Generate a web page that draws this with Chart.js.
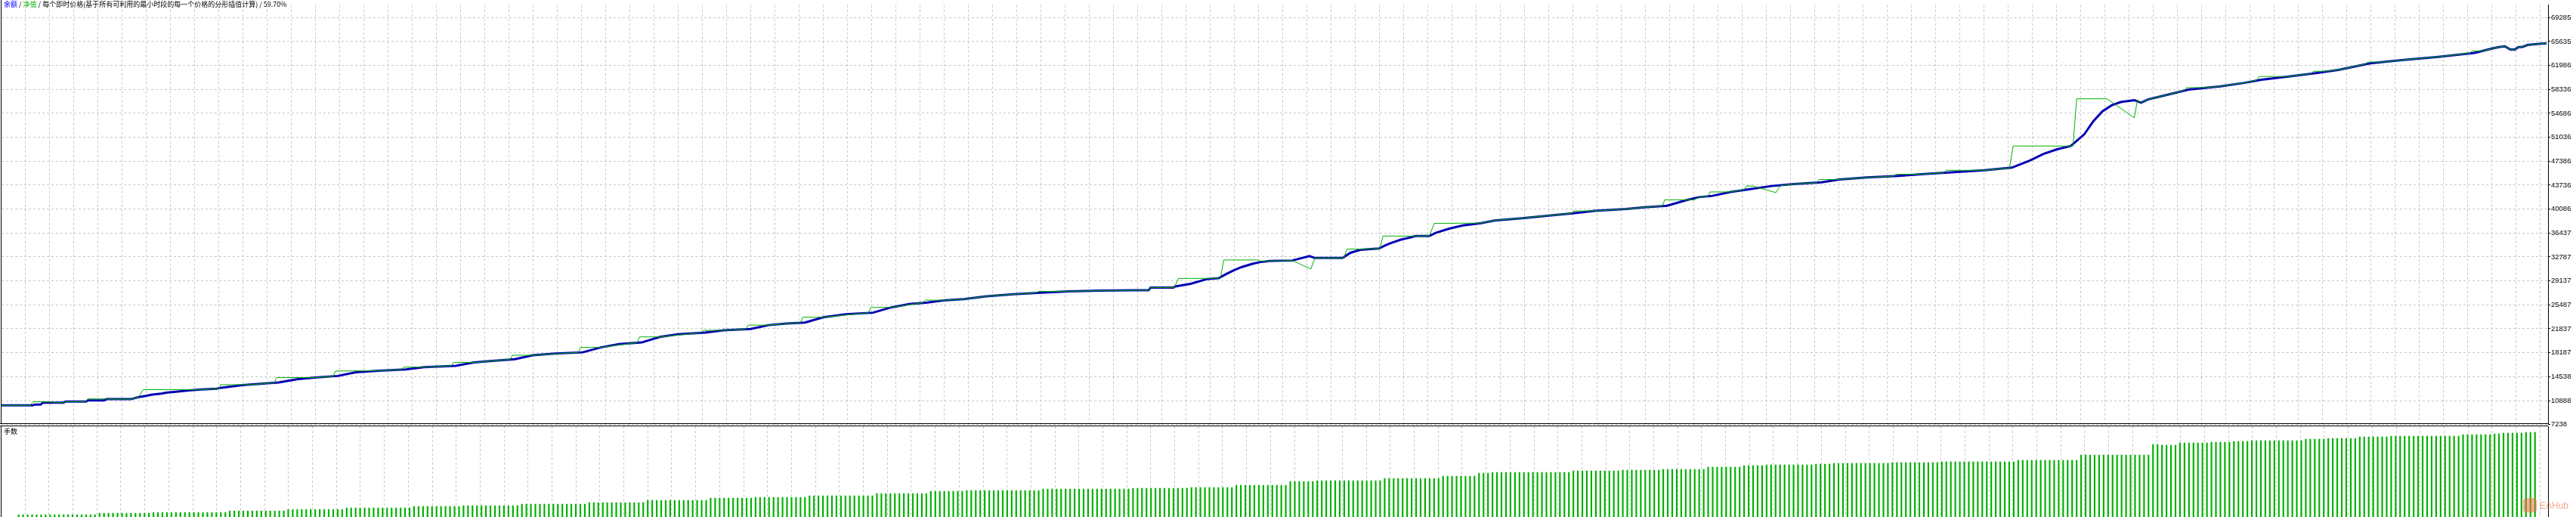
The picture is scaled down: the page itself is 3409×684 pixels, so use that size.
<!DOCTYPE html>
<html>
<head>
<meta charset="utf-8">
<script src="https://cdn.jsdelivr.net/npm/chart.js@4.4.1/dist/chart.umd.min.js"></script>
<style>
  html, body { margin: 0; padding: 0; background: #fff; width: 3409px; height: 684px; overflow: hidden; }
  canvas { position: absolute; left: 0; }
  #top { top: 0; }
  #bot { top: 563px; }
  .txt { position: absolute; font: 9px "Noto Sans CJK SC", "Liberation Sans", sans-serif; line-height: 12px; white-space: pre; color: #000; }
</style>
</head>
<body>
<canvas id="top" width="3409" height="580"></canvas>
<canvas id="bot" width="3409" height="121"></canvas>
<div class="txt" style="left:5px;top:0px"><span style="color:#0000ff">余额</span> / <span style="color:#00b000">净值</span> / 每个即时价格(基于所有可利用的最小时段的每一个价格的分形插值计算) / 59.70%</div>
<div class="txt" style="left:5px;top:565px">手数</div>
<div style="position:absolute;left:3339px;top:659px;width:18px;height:19px;border-radius:4px;background:rgba(240,110,70,0.55)"></div>
<div class="txt" style="left:3361px;top:662px;font:12px 'Liberation Sans';line-height:14px;color:rgba(240,110,70,0.6)">EAHub</div>

<script>
// 余额 (balance): trade number / value
var balanceTrade = [-1.1, 5.7, 6.2, 7.5, 8, 12.5, 13, 17.5, 18, 21.5, 22, 27.5, 28, 29, 30.7, 31.9, 34.1, 35.2, 37.4, 40.2, 43, 46.3, 47.4,
  52, 56, 60, 64, 68, 73, 77, 82, 88, 92, 99, 103, 107, 112, 116, 121, 127, 131, 135, 140, 144, 148, 154, 158, 164, 168, 172, 176,
  180, 185, 191, 195, 199, 203, 207, 211, 216, 222, 228, 234, 241, 248.4, 251.7, 252.2, 257.2, 257.6, 261, 264.5, 267.2, 267.6,
  268.9, 270.6, 272.3, 274.5, 276.2, 278.4, 283.4, 287.2, 288.4, 294.5, 296.2, 298.4, 302.5, 303.9, 305, 306.1, 307.2, 308.4,
  309.5, 310.5, 313.6, 315, 318, 321, 325, 328, 334, 340, 346, 350, 357, 361, 366, 370, 373, 376, 380, 384, 389, 394, 400, 404,
  410, 417, 422, 428, 436, 442, 446, 449, 452, 455, 458, 460, 462, 464, 466, 469, 470.5, 472, 475, 481, 488, 493, 497, 503, 509,
  514, 521, 528, 536, 544, 548.2, 549.4, 550.7, 551.9, 552.9, 553.7, 554.5, 555.7, 557.7, 559.9];
var balanceValue = [10164, 10164, 10278, 10278, 10585, 10585, 10733, 10733, 10927, 10927, 11109, 11109, 11223, 11416, 11610, 11792, 11951, 12099, 12247, 12441, 12589, 12703, 12862,
  13250, 13450, 13650, 14150, 14400, 14650, 15200, 15450, 15650, 16000, 16200, 16700, 16950, 17200, 17800, 18050, 18250, 19000, 19500, 19750, 20600, 21000, 21250, 21600, 21800, 22400, 22650, 22800,
  23600, 24050, 24300, 25100, 25600, 25850, 26200, 26350, 26800, 27100, 27350, 27550, 27650, 27700, 27700, 28120, 28120, 28300, 28700, 29400, 29550, 29710,
  30200, 30770, 31260, 31720, 31990, 32170, 32250, 32930, 32630, 32630, 33420, 33880, 34070, 34560, 34870, 35130, 35400, 35590,
  35780, 35970, 35970, 36460, 37100, 37600, 37950, 38350, 38700, 39100, 39500, 39800, 40100, 40350, 40600, 41400, 41900, 42100, 42700, 43100, 43600, 43900, 44150, 44600,
  44900, 45150, 45400, 45650, 46000, 46400, 47500, 48500, 49200, 49700, 51500, 53500, 55000, 55900, 56400, 56700, 56300, 56800, 57300, 58300, 58800, 59300, 59800, 60300, 60800,
  61300, 62300, 62800, 63300, 63900, 64610, 64793, 64907, 64417, 64417, 64793, 64793, 65100, 65250, 65362];

// 净值 (equity): trade number / value
var equityTrade = [-1.1, 5.2, 5.8, 9.9, 10.4, 12.5, 13, 17.4, 17.9, 21.9, 22.2, 27.5, 28, 29.1, 30.1, 42, 43, 46.3, 46.9, 47.2, 54, 56,
  59, 59.5, 68, 72, 72.5, 82, 87, 87.5, 92, 98, 98.5, 103, 111, 111.5, 116, 126, 126.5, 131, 139, 139.5, 144, 153, 153.5, 158,
  163, 163.5, 168, 175, 175.5, 180, 190, 190.5, 195, 202, 202.5, 207, 211, 216, 222, 227, 227.5, 234, 241, 248.4, 251.7, 252.2,
  257.4, 258.3, 264.5, 267.2, 267.6, 268.3, 275.9, 276.3, 278.4, 283.4, 287.5, 288.4, 294.7, 295.5, 298.9, 302.5, 302.7, 303.4,
  313.6, 314.7, 325, 328, 334, 340, 345, 345.5, 350, 357, 361, 365, 365.5, 372, 373, 375, 375.5, 380, 383, 383.5, 385, 390, 391,
  394, 399, 399.5, 404, 410, 416, 416.5, 422, 427, 427.5, 436, 441.5, 442.3, 455.5, 456.3, 463, 469, 469.7, 470.5, 472, 475, 480,
  480.5, 485, 488, 493, 496, 496.5, 503, 508, 508.5, 511, 514, 520, 520.5, 524, 528, 536, 543, 543.5, 546, 548.2, 549.4, 550.7,
  551.9, 552.9, 553.7, 554.5, 555.7, 557.7, 559.9];
var equityValue = [10164, 10164, 10700, 10700, 10585, 10585, 10733, 10733, 11155, 11155, 11109, 11109, 11223, 11416, 12555, 12555, 12589, 12703, 12750, 13318, 13318, 13450,
  13600, 14400, 14400, 14600, 15400, 15450, 15620, 16000, 16000, 16180, 16700, 16700, 17180, 17800, 17800, 18230, 19000, 19000, 19720, 20600, 20600, 21230, 21600, 21600,
  21780, 22400, 22400, 22780, 23600, 23600, 24280, 25100, 25100, 25820, 26200, 26200, 26350, 26800, 27100, 27330, 27550, 27550, 27650, 27700, 27700, 28120,
  28120, 29520, 29520, 29550, 29710, 32330, 32330, 32170, 32170, 32250, 30960, 32630, 32630, 33990, 33990, 34070, 34070, 35970,
  35970, 37910, 37950, 38350, 38700, 39100, 39450, 39800, 39800, 40100, 40350, 40580, 41500, 41500, 41900, 42050, 42700, 42700, 43050, 43600, 43600, 42600, 43650,
  43900, 44100, 44600, 44600, 44900, 45120, 45400, 45400, 45620, 46000, 46000, 46350, 49700, 49700, 56900, 56900, 54000, 56700, 56300, 56800, 57300, 58150,
  58600, 58600, 58800, 59300, 59750, 60300, 60300, 60750, 61100, 61100, 61300, 62200, 62500, 62500, 62800, 63300, 63850, 64200, 64200, 64610, 64793, 64907,
  64417, 64417, 64793, 64793, 65100, 65250, 65362];

// 手数 (lots): run lengths, one bar per trade
var lotSizes  = [0.20, 0.22, 0.23, 0.25, 0.27, 0.29, 0.31, 0.32, 0.34, 0.36, 0.39, 0.42, 0.43, 0.45, 0.48, 0.51, 0.52, 0.54, 0.55, 0.56,
  0.59, 0.64, 0.65, 0.68, 0.71, 0.75, 0.76, 0.78, 0.79, 0.80, 0.83, 0.85, 0.86, 0.87, 0.88, 0.89, 0.90, 0.92, 0.99, 1.13, 1.12, 1.15,
  1.16, 1.17, 1.18, 1.20, 1.21, 1.23, 1.24, 1.26, 1.27, 1.28, 1.29];
var lotCounts = [18, 12, 17, 13, 13, 15, 11, 13, 15, 13, 14, 10, 12, 15, 12, 8, 17, 20, 13, 10,
  12, 6, 15, 13, 8, 3, 18, 11, 9, 10, 8, 5, 11, 4, 13, 11, 17, 14, 16, 2, 4, 7,
  5, 4, 12, 5, 7, 7, 16, 7, 2, 5, 3];

// right axis tick labels
var yTicks = [7238, 10888, 14538, 18187, 21837, 25487, 29137, 32787, 36437, 40086, 43736, 47386, 51036, 54686, 58336, 61986, 65635, 69285];

var X_MIN = -1.116, X_MAX = 560.21;
var Y_MIN = 7238, Y_MAX = 71187;
var LOT_MIN = 0.17, LOT_MAX = 1.37;

var balancePts = balanceTrade.map(function (t, i) { return { x: t, y: balanceValue[i] }; });
var equityPts = equityTrade.map(function (t, i) { return { x: t, y: equityValue[i] }; });
var lotPts = [];
var n = 0;
lotSizes.forEach(function (lot, k) {
  for (var c = 0; c < lotCounts[k]; c++) { lotPts.push({ x: n, y: lot }); n++; }
});

// vertical dashed grid every 32px starting at x=33
function vGrid(scale) {
  var ppu = (scale.right - scale.left) / (scale.max - scale.min);
  var t = [];
  for (var k = 0; k <= 104; k++) t.push({ value: scale.min + (31.3 + 32 * k) / ppu });
  scale.ticks = t;
}

var frame = {
  id: 'frame',
  afterDraw: function (chart, args, opts) {
    var ctx = chart.ctx, a = chart.chartArea;
    ctx.save();
    ctx.strokeStyle = '#000';
    ctx.lineWidth = 1;
    ctx.beginPath();
    ctx.moveTo(1.5, 0);
    ctx.lineTo(1.5, opts.bottom ? Math.floor(a.bottom) : chart.height);
    if (opts.bottom) { ctx.moveTo(0, Math.floor(a.bottom) - 0.5); ctx.lineTo(a.right, Math.floor(a.bottom) - 0.5); }
    if (opts.top) { ctx.moveTo(0, 0.5); ctx.lineTo(a.right, 0.5); }
    ctx.stroke();
    ctx.restore();
  }
};

var gridX = {
  type: 'linear', min: X_MIN, max: X_MAX,
  ticks: { display: false },
  grid: { color: '#c8c8c8', drawTicks: false, lineWidth: 1 },
  border: { display: false, dash: [3, 3] },
  afterBuildTicks: vGrid
};

Chart.defaults.font.family = 'Liberation Sans';

new Chart(document.getElementById('top'), {
  type: 'line',
  data: {
    datasets: [
      { label: '净值', data: equityPts, borderColor: '#00b000', borderWidth: 1, pointRadius: 0, tension: 0 },
      { label: '余额', data: balancePts, borderColor: '#0000b4', borderWidth: 3, pointRadius: 0, tension: 0 }
    ]
  },
  options: {
    responsive: false, animation: false, events: [],
    layout: { padding: { left: 2, top: 0, right: 0, bottom: 18.3 } },
    plugins: { legend: { display: false }, tooltip: { enabled: false }, frame: { bottom: true } },
    scales: {
      x: gridX,
      y: {
        position: 'right', min: Y_MIN, max: Y_MAX,
        afterBuildTicks: function (s) { s.ticks = yTicks.map(function (v) { return { value: v }; }); },
        afterFit: function (s) { s.width = 37; },
        ticks: { color: '#000', font: { size: 9.5 }, padding: 1, autoSkip: false, callback: function (v) { return String(v); } },
        grid: { color: '#c8c8c8', tickColor: '#000', tickLength: 3 },
        border: { display: true, color: '#000', width: 1, dash: [3, 3] }
      }
    }
  },
  plugins: [frame]
});

new Chart(document.getElementById('bot'), {
  type: 'bar',
  data: { datasets: [{ label: '手数', data: lotPts, backgroundColor: '#00b000', barThickness: 1.5 }] },
  options: {
    responsive: false, animation: false, events: [],
    layout: { padding: { left: 2, top: 1, right: 0, bottom: 0 } },
    plugins: { legend: { display: false }, tooltip: { enabled: false }, frame: { top: true } },
    scales: {
      x: gridX,
      y: {
        position: 'right', min: LOT_MIN, max: LOT_MAX,
        afterFit: function (s) { s.width = 37; },
        ticks: { display: false },
        grid: { display: false },
        border: { display: true, color: '#000', width: 1 }
      }
    }
  },
  plugins: [frame]
});
</script>
</body>
</html>
